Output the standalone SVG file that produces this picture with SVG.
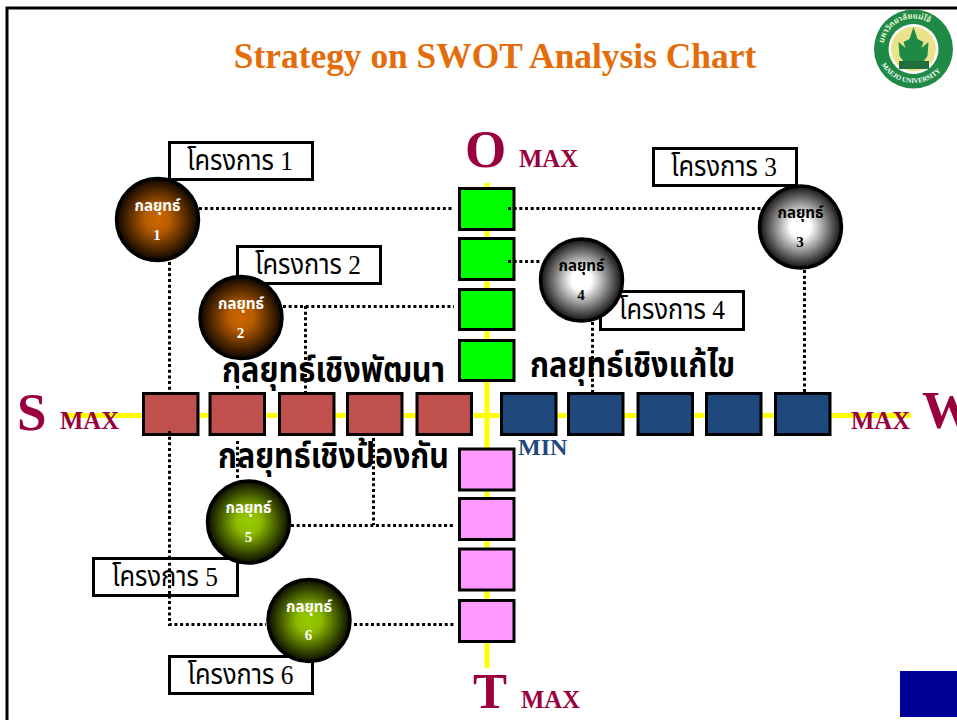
<svg xmlns="http://www.w3.org/2000/svg" width="957" height="720" viewBox="0 0 957 720">
<defs>
<radialGradient id="gb"><stop offset="0" stop-color="#CC6600"/><stop offset="0.3" stop-color="#B85C00"/><stop offset="1" stop-color="#0d0600"/></radialGradient>
<radialGradient id="gw"><stop offset="0" stop-color="#fff"/><stop offset="0.25" stop-color="#fff"/><stop offset="1" stop-color="#111"/></radialGradient>
<radialGradient id="gg"><stop offset="0" stop-color="#99CC00"/><stop offset="0.3" stop-color="#8CBB00"/><stop offset="1" stop-color="#0a0d00"/></radialGradient>
<path id="logoTop" d="M 883 49 A 30.500 30.500 0 0 1 944 49"/>
<path id="logoBottom" d="M 877 52 A 37 37 0 0 0 950 52"/>
</defs>
<style>
.box{stroke:#000;stroke-width:3}
.g{fill:#00FF00}.r{fill:#C0504D}.b{fill:#1F497D}.p{fill:#FF99FF}
.lab{fill:#fff;stroke:#000;stroke-width:3}
.circ{stroke:#000;stroke-width:3.5}
.dot{fill:none;stroke:#000;stroke-width:3;stroke-dasharray:3 2.67}
.axis{stroke:#FFFF00;stroke-width:5;fill:none}
text{font-family:"Liberation Serif","Noto Sans Thai","Noto Serif Thai","DejaVu Sans",serif}
.big{font-size:53px;font-weight:bold;fill:#99003D}
.max{font-size:24.700px;font-weight:bold;fill:#99003D}
.head{font-size:36px;font-weight:bold;fill:#000;text-anchor:middle}
.proj{font-size:28px;fill:#000;text-anchor:middle}
.st{font-size:15px;font-weight:bold;text-anchor:middle}
</style>
<rect width="957" height="720" fill="#fff"/>
<path id="frame" d="M7 720V8H957" fill="none" stroke="#000" stroke-width="3"/>
<text id="title" x="495" y="68" font-size="35.400" font-weight="bold" fill="#E46C0A" text-anchor="middle">Strategy on SWOT Analysis Chart</text>
<g id="logo">
<circle cx="913.500" cy="49" r="39.500" fill="#1E8A45"/>
<circle cx="913.500" cy="49" r="25" fill="#fff"/>
<circle cx="913.500" cy="49" r="22.500" fill="#E9E48C"/>
<path d="M913.500 27l4 12 6 3-2 6 7-6-1 14-6 8h-16l-6-8-1-14 7 6-2-6 6-3z" fill="#1E8A45"/>
<rect x="899" y="61" width="30" height="8" fill="#1E6F3C"/>
<text font-size="8" font-weight="bold" fill="#E8F5D0"><textPath href="#logoTop" startOffset="6%">มหาวิทยาลัยแม่โจ้</textPath></text>
<text font-size="6.800" font-weight="bold" fill="#fff"><textPath href="#logoBottom" startOffset="13%">MAEJO UNIVERSITY</textPath></text>
</g>
<g id="axes">
<path class="axis" d="M63 415.500H911"/>
<path class="axis" d="M487 183V668"/>
</g>
<g id="connectors">
<path class="dot" d="M199 208.500H454"/>
<path class="dot" d="M169.500 262V392"/>
<path class="dot" d="M169.500 431V624.500H266"/>
<path class="dot" d="M283 306.500H454"/>
<path class="dot" d="M305.500 306V397"/>
<path class="dot" d="M237.500 380V391"/>
<path class="dot" d="M237.500 441V480"/>
<path class="dot" d="M373.500 438V525"/>
<path class="dot" d="M291 525.500H454"/>
<path class="dot" d="M354 624.500H454"/>
</g>
<g id="squares-O">
<rect class="box g" x="459.500" y="188.500" width="54.500" height="41"/>
<rect class="box g" x="459.500" y="238.500" width="54.500" height="41"/>
<rect class="box g" x="459.500" y="289.500" width="54.500" height="40"/>
<rect class="box g" x="459.500" y="340.500" width="54.500" height="40"/>
</g>
<g id="squares-S">
<rect class="box r" x="143.500" y="393.500" width="54.500" height="41"/>
<rect class="box r" x="210" y="393.500" width="54.500" height="41"/>
<rect class="box r" x="279.500" y="393.500" width="54.500" height="41"/>
<rect class="box r" x="347.500" y="393.500" width="54.500" height="41"/>
<rect class="box r" x="417" y="393.500" width="54.500" height="41"/>
</g>
<g id="squares-W">
<rect class="box b" x="501.500" y="393.500" width="54.500" height="41"/>
<rect class="box b" x="568.500" y="393.500" width="54.500" height="41"/>
<rect class="box b" x="638" y="393.500" width="54.500" height="41"/>
<rect class="box b" x="706.500" y="393.500" width="54.500" height="41"/>
<rect class="box b" x="775.500" y="393.500" width="54.500" height="41"/>
</g>
<g id="squares-T">
<rect class="box p" x="459.500" y="449" width="54.500" height="41"/>
<rect class="box p" x="459.500" y="498.500" width="54.500" height="41"/>
<rect class="box p" x="459.500" y="549" width="54.500" height="41"/>
<rect class="box p" x="459.500" y="600.500" width="54.500" height="41"/>
</g>
<g id="connectors-over">
<path class="dot" d="M508 208.500H762"/>
<path class="dot" d="M508 261.500H541"/>
<path class="dot" d="M592.500 322V392"/>
<path class="dot" d="M804.500 270V392"/>
<path class="dot" d="M169.500 431V435"/>
<path class="dot" d="M305.500 392V397"/>
</g>
<g id="p1"><rect class="lab" x="169.500" y="142.500" width="143" height="37"/><text class="proj" x="240" y="170" textLength="106" lengthAdjust="spacingAndGlyphs">โครงการ 1</text></g>
<g id="p2"><rect class="lab" x="237.500" y="246.500" width="143" height="37"/><text class="proj" x="308" y="274" textLength="106" lengthAdjust="spacingAndGlyphs">โครงการ 2</text></g>
<g id="p3"><rect class="lab" x="653.500" y="148.500" width="143" height="37"/><text class="proj" x="724" y="176" textLength="106" lengthAdjust="spacingAndGlyphs">โครงการ 3</text></g>
<g id="p4"><rect class="lab" x="600.500" y="291.500" width="143" height="38"/><text class="proj" x="672" y="319" textLength="106" lengthAdjust="spacingAndGlyphs">โครงการ 4</text></g>
<g id="p5"><rect class="lab" x="93.500" y="558.500" width="144" height="37"/><text class="proj" x="165" y="586" textLength="106" lengthAdjust="spacingAndGlyphs">โครงการ 5</text></g>
<g id="p6"><rect class="lab" x="169.500" y="656.500" width="143" height="37"/><text class="proj" x="240.500" y="684" textLength="106" lengthAdjust="spacingAndGlyphs">โครงการ 6</text></g>
<path class="dot" d="M169.500 557V597"/>
<g id="s1"><circle class="circ" cx="157.500" cy="219.500" r="41" fill="url(#gb)"/><text class="st" x="157.500" y="211" fill="#fff" textLength="46" lengthAdjust="spacingAndGlyphs">กลยุทธ์</text><text class="st" x="157" y="240" fill="#fff">1</text></g>
<g id="s2"><circle class="circ" cx="241" cy="317.500" r="41" fill="url(#gb)"/><text class="st" x="241" y="309" fill="#fff" textLength="46" lengthAdjust="spacingAndGlyphs">กลยุทธ์</text><text class="st" x="240.500" y="338" fill="#fff">2</text></g>
<g id="s3"><circle class="circ" cx="800.500" cy="227" r="41" fill="url(#gw)"/><text class="st" x="800.500" y="218" fill="#000" textLength="46" lengthAdjust="spacingAndGlyphs">กลยุทธ์</text><text class="st" x="800" y="247" fill="#000">3</text></g>
<g id="s4"><circle class="circ" cx="581.500" cy="280" r="41" fill="url(#gw)"/><text class="st" x="581.500" y="271" fill="#000" textLength="46" lengthAdjust="spacingAndGlyphs">กลยุทธ์</text><text class="st" x="581" y="300" fill="#000">4</text></g>
<g id="s5"><circle class="circ" cx="248.500" cy="522" r="41" fill="url(#gg)"/><text class="st" x="248.500" y="513" fill="#fff" textLength="46" lengthAdjust="spacingAndGlyphs">กลยุทธ์</text><text class="st" x="248.500" y="542" fill="#fff">5</text></g>
<g id="s6"><circle class="circ" cx="309" cy="620.500" r="41" fill="url(#gg)"/><text class="st" x="309" y="612" fill="#fff" textLength="46" lengthAdjust="spacingAndGlyphs">กลยุทธ์</text><text class="st" x="308.500" y="640" fill="#fff">6</text></g>
<text class="head" x="333.500" y="382" textLength="223" lengthAdjust="spacingAndGlyphs">กลยุทธ์เชิงพัฒนา</text>
<text class="head" x="632.500" y="377" textLength="205" lengthAdjust="spacingAndGlyphs">กลยุทธ์เชิงแก้ไข</text>
<text class="head" x="333.500" y="468" textLength="231" lengthAdjust="spacingAndGlyphs">กลยุทธ์เชิงป้องกัน</text>
<text class="big" x="465" y="167">O</text><text class="max" x="519" y="167">MAX</text>
<text class="big" x="17" y="429.500">S</text><text class="max" x="60" y="429">MAX</text>
<text class="big" x="922" y="428">W</text><text class="max" x="851" y="428.500">MAX</text>
<text class="big" x="473" y="708" style="font-size:51px">T</text><text class="max" x="521" y="708">MAX</text>
<text x="518" y="455" font-size="24" font-weight="bold" fill="#1F497D">MIN</text>
<rect id="navy" x="900" y="671" width="57" height="46" fill="#000099"/>
</svg>
